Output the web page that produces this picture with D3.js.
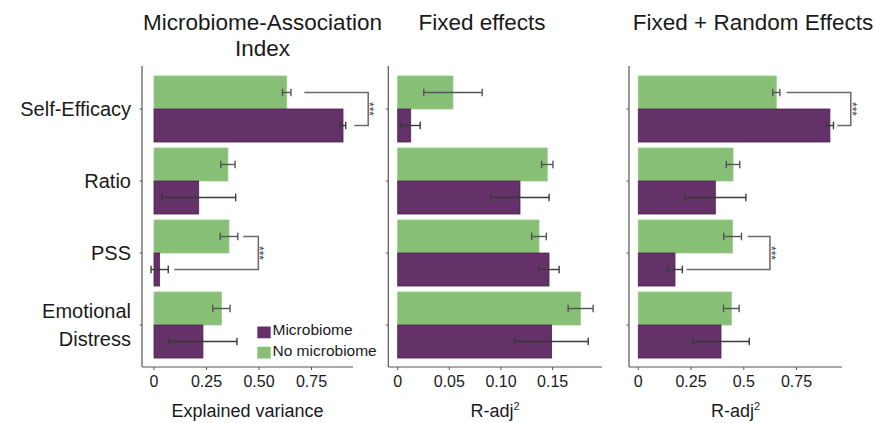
<!DOCTYPE html>
<html>
<head>
<meta charset="utf-8">
<script src="https://cdn.jsdelivr.net/npm/d3@7"></script>
<style>
  html, body { margin: 0; padding: 0; background: #fff; }
  svg { display: block; font-family: "Liberation Sans", Arial, sans-serif; }
</style>
</head>
<body>
<svg id="chart" width="875" height="423"></svg>
<script>
// ---------------- DATA ----------------
const categories = ["Self-Efficacy", "Ratio", "PSS", "Emotional Distress"];
const groups = ["No microbiome", "Microbiome"];
const legendLabels = ["Microbiome", "No microbiome"];

const panelTitles = [["Microbiome-Association", "Index"], ["Fixed effects"], ["Fixed + Random Effects"]];
const axisTitles = ["Explained variance", "R-adj", "R-adj"];

// Microbiome-Association Index
const maiNoMicro = [0.632, 0.352, 0.357, 0.321];
const maiNoMicroErr = [0.020, 0.034, 0.042, 0.041];
const maiMicro = [0.900, 0.213, 0.027, 0.233];
const maiMicroErr = [0.013, 0.176, 0.041, 0.162];

// Fixed effects
const fixNoMicro = [0.0535, 0.1448, 0.1368, 0.1771];
const fixNoMicroErr = [0.0283, 0.0055, 0.0071, 0.0121];
const fixMicro = [0.0126, 0.1184, 0.1465, 0.1490];
const fixMicroErr = [0.0092, 0.0282, 0.0098, 0.0355];

// Fixed + Random effects
const rndNoMicro = [0.654, 0.449, 0.447, 0.441];
const rndNoMicroErr = [0.017, 0.032, 0.042, 0.037];
const rndMicro = [0.908, 0.365, 0.174, 0.392];
const rndMicroErr = [0.017, 0.145, 0.035, 0.134];

// tick values / labels
const ticks1 = [0, 0.25, 0.5, 0.75];
const tickLabels1 = ["0", "0.25", "0.50", "0.75"];
const ticks2 = [0, 0.05, 0.10, 0.15];
const tickLabels2 = ["0", "0.05", "0.10", "0.15"];
const ticks3 = [0, 0.25, 0.5, 0.75];
const tickLabels3 = ["0", "0.25", "0.5", "0.75"];

// significance brackets (data units): start beside green, bracket position, end beside purple
const brackets1 = [
  { category: "Self-Efficacy", x1: 0.716, xb: 1.020, x2: 0.954, label: "***" },
  { category: "PSS", x1: 0.425, xb: 0.497, x2: 0.097, label: "***" }
];
const brackets3 = [
  { category: "Self-Efficacy", x1: 0.703, xb: 1.007, x2: 0.943, label: "***" },
  { category: "PSS", x1: 0.518, xb: 0.624, x2: 0.229, label: "***" }
];

// ---------------- STYLE / LAYOUT ----------------
const colors = { "No microbiome": "#86bf75", "Microbiome": "#643168" };
const strokes = { "No microbiome": "#98cc89", "Microbiome": "#4e2152" };
const axisColor = "#555";
const textColor = "#1a1a1a";

const yTop = 66, yBottom = 367;

const panels = [
  { left: 142, right: 353, domain: [-0.0571, 0.9476], titleX: 262.5,
    noMicro: maiNoMicro, noMicroErr: maiNoMicroErr, micro: maiMicro, microErr: maiMicroErr,
    ticks: ticks1, tickLabels: tickLabels1, brackets: brackets1, showY: true, legend: true },
  { left: 388.3, right: 602, domain: [-0.0091, 0.1978], titleX: 482,
    noMicro: fixNoMicro, noMicroErr: fixNoMicroErr, micro: fixMicro, microErr: fixMicroErr,
    ticks: ticks2, tickLabels: tickLabels2, brackets: [], showY: false, legend: false },
  { left: 629, right: 842, domain: [-0.044, 0.9654], titleX: 753,
    noMicro: rndNoMicro, noMicroErr: rndNoMicroErr, micro: rndMicro, microErr: rndMicroErr,
    ticks: ticks3, tickLabels: tickLabels3, brackets: brackets3, showY: false, legend: false }
];

const svg = d3.select("#chart");

const y = d3.scaleBand().domain(categories).range([70, 364]).padding(0.083);
const ySub = d3.scaleBand().domain(groups).range([0, y.bandwidth()]).padding(0);

panels.forEach((p, pi) => {
  const x = d3.scaleLinear().domain(p.domain).range([p.left, p.right]);
  const g = svg.append("g");

  // rows of data
  const rows = [];
  categories.forEach((c, i) => {
    rows.push({ category: c, group: "No microbiome", value: p.noMicro[i], err: p.noMicroErr[i] });
    rows.push({ category: c, group: "Microbiome", value: p.micro[i], err: p.microErr[i] });
  });

  // bars
  g.selectAll("rect.bar").data(rows).enter().append("rect")
    .attr("class", "bar")
    .attr("x", d => x(0))
    .attr("y", d => y(d.category) + ySub(d.group))
    .attr("width", d => x(d.value) - x(0))
    .attr("height", ySub.bandwidth())
    .attr("fill", d => colors[d.group])
    .attr("stroke", d => strokes[d.group])
    .attr("stroke-width", 0.8);

  // error bars
  const eb = g.selectAll("g.err").data(rows).enter().append("g").attr("class", "err")
    .attr("stroke", d => d.group === "Microbiome" ? "#3a3a3a" : "#555")
    .attr("stroke-width", 1.4).attr("fill", "none");
  const cy = d => y(d.category) + ySub(d.group) + ySub.bandwidth() / 2;
  eb.append("line")
    .attr("x1", d => x(d.value - d.err)).attr("x2", d => x(d.value + d.err))
    .attr("y1", cy).attr("y2", cy);
  eb.append("line")
    .attr("x1", d => x(d.value - d.err)).attr("x2", d => x(d.value - d.err))
    .attr("y1", d => cy(d) - 3.8).attr("y2", d => cy(d) + 3.8);
  eb.append("line")
    .attr("x1", d => x(d.value + d.err)).attr("x2", d => x(d.value + d.err))
    .attr("y1", d => cy(d) - 3.8).attr("y2", d => cy(d) + 3.8);

  // axes lines
  g.append("line").attr("x1", p.left).attr("x2", p.left).attr("y1", yTop).attr("y2", yBottom)
    .attr("stroke", axisColor).attr("stroke-width", 1.2);
  g.append("line").attr("x1", p.left).attr("x2", p.right).attr("y1", yBottom).attr("y2", yBottom)
    .attr("stroke", axisColor).attr("stroke-width", 1.2);

  // left ticks
  g.selectAll("line.yt").data(categories).enter().append("line")
    .attr("x1", p.left - 2.5).attr("x2", p.left)
    .attr("y1", d => y(d) + y.bandwidth() / 2).attr("y2", d => y(d) + y.bandwidth() / 2)
    .attr("stroke", axisColor).attr("stroke-width", 1);

  // bottom ticks
  g.selectAll("line.xt").data(p.ticks).enter().append("line")
    .attr("x1", d => x(d)).attr("x2", d => x(d))
    .attr("y1", yBottom).attr("y2", yBottom + 3)
    .attr("stroke", axisColor).attr("stroke-width", 1);
  g.selectAll("text.xt").data(p.ticks).enter().append("text")
    .attr("x", d => x(d)).attr("y", 387)
    .attr("text-anchor", "middle").attr("font-size", 16).attr("fill", textColor)
    .text((d, i) => p.tickLabels[i]);

  // axis title
  const at = g.append("text")
    .attr("x", (p.left + p.right) / 2).attr("y", 417)
    .attr("text-anchor", "middle").attr("font-size", 18).attr("fill", textColor);
  at.append("tspan").text(axisTitles[pi]);
  if (pi > 0) {
    at.append("tspan").attr("font-size", 11).attr("dy", -7).text("2");
  }

  // panel title
  const tt = g.append("text").attr("text-anchor", "middle").attr("font-size", 22.5).attr("fill", textColor);
  panelTitles[pi].forEach((line, li) => {
    tt.append("tspan").attr("x", p.titleX).attr("y", 29.5 + li * 26.5).text(line);
  });

  // y labels
  if (p.showY) {
    categories.forEach(c => {
      const words = c === "Emotional Distress" ? ["Emotional", "Distress"] : [c];
      const cyc = y(c) + y.bandwidth() / 2;
      const t = svg.append("text").attr("text-anchor", "end").attr("font-size", 20).attr("fill", textColor);
      words.forEach((w, wi) => {
        t.append("tspan").attr("x", 131)
          .attr("y", cyc + 7 - (words.length - 1) * 13.8 + wi * 27.6).text(w);
      });
    });
  }

  // significance brackets
  p.brackets.forEach(b => {
    const yG = y(b.category) + ySub("No microbiome") + ySub.bandwidth() / 2;
    const yM = y(b.category) + ySub("Microbiome") + ySub.bandwidth() / 2;
    g.append("path")
      .attr("d", `M${x(b.x1)},${yG}H${x(b.xb)}V${yM}H${x(b.x2)}`)
      .attr("fill", "none").attr("stroke", "#6a6a6a").attr("stroke-width", 1.5);
    const tx = x(b.xb) - 3, ty = (yG + yM) / 2;
    g.append("text")
      .attr("transform", `translate(${tx},${ty}) rotate(90)`)
      .attr("text-anchor", "middle").attr("font-size", 12).attr("fill", "#444")
      .text(b.label);
  });

  // legend
  if (p.legend) {
    const lg = g.append("g");
    legendLabels.forEach((lab, li) => {
      lg.append("rect").attr("x", 257.3).attr("y", 326.5 + li * 20.2)
        .attr("width", 13.4).attr("height", 11.8).attr("fill", colors[lab]);
      lg.append("text").attr("x", 272.5).attr("y", 335 + li * 20.8)
        .attr("font-size", 15.5).attr("fill", textColor).text(lab);
    });
  }
});
</script>
</body>
</html>
